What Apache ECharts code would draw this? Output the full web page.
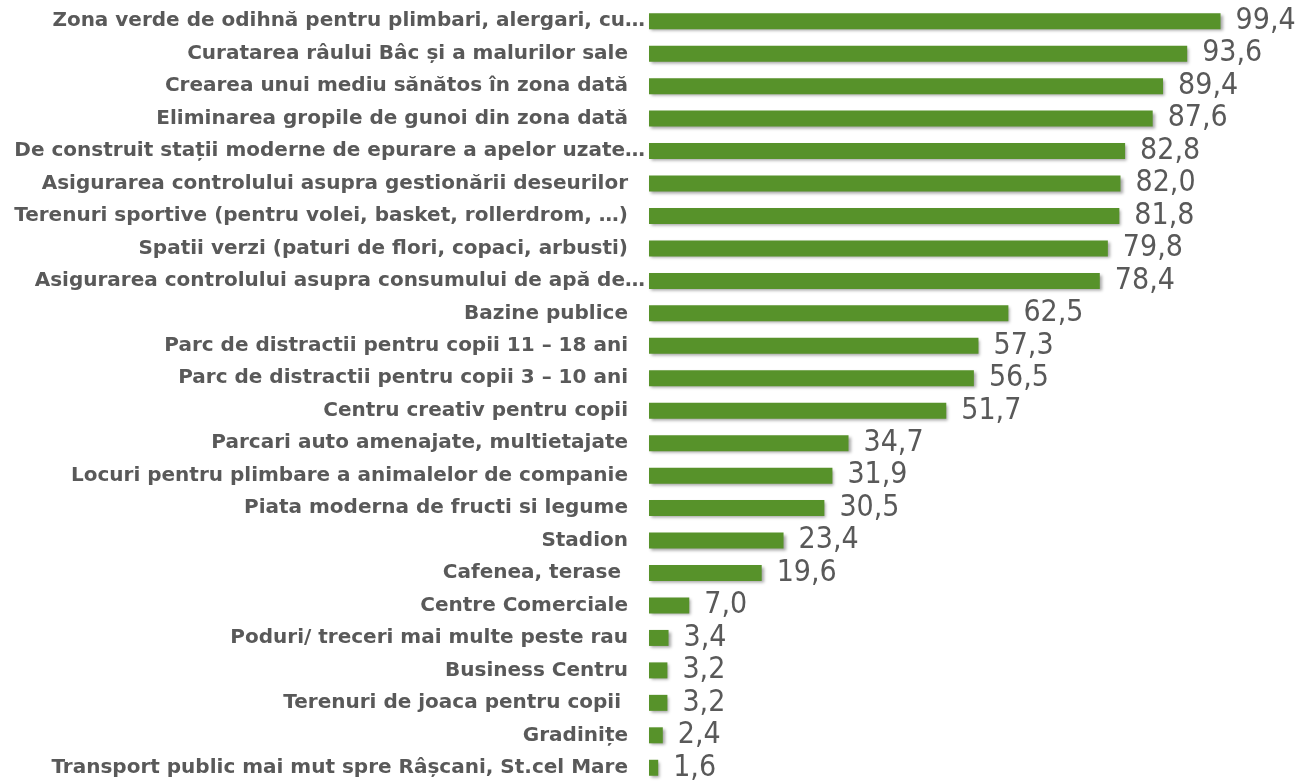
<!DOCTYPE html>
<html>
<head>
<meta charset="utf-8">
<script src="https://cdn.jsdelivr.net/npm/echarts@6/dist/echarts.min.js"></script>
<style>
  html, body { margin: 0; padding: 0; background: #fff; }
  #chart { width: 1301px; height: 784px; }
</style>
</head>
<body>
<div id="chart"></div>
<script>
// categories, top to bottom
var categories = [
  'Zona verde de odihnă pentru plimbari, alergari, cu…',
  'Curatarea râului Bâc și a malurilor sale',
  'Crearea unui mediu sănătos în zona dată',
  'Eliminarea gropile de gunoi din zona dată',
  'De construit stații moderne de epurare a apelor uzate…',
  'Asigurarea controlului asupra gestionării deseurilor',
  'Terenuri sportive (pentru volei, basket, rollerdrom, …)',
  'Spatii verzi (paturi de flori, copaci, arbusti)',
  'Asigurarea controlului asupra consumului de apă de…',
  'Bazine publice',
  'Parc de distractii pentru copii 11 – 18 ani',
  'Parc de distractii pentru copii 3 – 10 ani',
  'Centru creativ pentru copii',
  'Parcari auto amenajate, multietajate',
  'Locuri pentru plimbare a animalelor de companie',
  'Piata moderna de fructi si legume',
  'Stadion',
  'Cafenea, terase ',
  'Centre Comerciale',
  'Poduri/ treceri mai multe peste rau',
  'Business Centru',
  'Terenuri de joaca pentru copii ',
  'Gradinițe',
  'Transport public mai mut spre Râșcani, St.cel Mare'
];

var values = [99.4, 93.6, 89.4, 87.6, 82.8, 82.0, 81.8, 79.8, 78.4, 62.5, 57.3, 56.5,
  51.7, 34.7, 31.9, 30.5, 23.4, 19.6, 7.0, 3.4, 3.2, 3.2, 2.4, 1.6];

var chart = echarts.init(document.getElementById('chart'));

var labelFont = {
  color: '#595959',
  fontSize: 20,
  fontWeight: 'bold',
  fontFamily: 'DejaVu Sans'
};

var option = {
  backgroundColor: '#fff',
  animation: false,
  grid: {
    left: 649,
    right: 77,
    top: 5,
    height: 780
  },
  xAxis: {
    type: 'value',
    min: 0,
    max: 100,
    show: false
  },
  yAxis: {
    type: 'category',
    data: categories,
    inverse: true,
    axisLine: { show: false },
    axisTick: { show: false },
    splitLine: { show: false },
    axisLabel: {
      margin: 4,
      color: '#595959',
      fontSize: 20,
      fontWeight: 'bold',
      fontFamily: 'DejaVu Sans',
      // truncated labels (…) run closer to the bars
      formatter: function (v) {
        return v.charAt(v.length - 1) === '…' ? '{e|' + v + '}' : '{n|' + v + '}';
      },
      rich: {
        n: Object.assign({ padding: [0, 17, 0, 0] }, labelFont),
        e: Object.assign({}, labelFont)
      }
    }
  },
  series: [{
    type: 'bar',
    data: values,
    barWidth: 16,
    itemStyle: {
      color: '#57922A',
      shadowColor: 'rgba(0,0,0,0.35)',
      shadowBlur: 3,
      shadowOffsetX: 2,
      shadowOffsetY: 2
    },
    label: {
      show: true,
      position: 'right',
      distance: 15,
      color: '#595959',
      fontSize: 30,
      fontFamily: 'DejaVu Sans Condensed',
      formatter: function (p) {
        return p.value.toFixed(1).replace('.', ',');
      }
    }
  }]
};

chart.setOption(option);
</script>
</body>
</html>
